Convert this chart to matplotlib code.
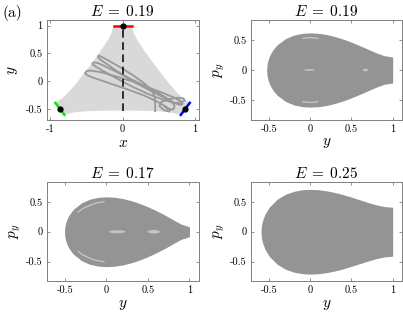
import numpy as np
import matplotlib
matplotlib.use('Agg')
import matplotlib.pyplot as plt
from matplotlib.patches import Polygon, Ellipse

plt.rcParams['mathtext.fontset'] = 'cm'
plt.rcParams['font.family'] = 'cmr10'
plt.rcParams['axes.unicode_minus'] = False

# --- panel (a): allowed region for E = 0.19, closed outline (x, y)
region_x = [-0.125, 0.125, 0.153, 0.200, 0.241, 0.308, 0.364, 0.412, 0.459,
            0.506, 0.557, 0.616, 0.694, 0.747, 0.825, 0.928, 0.804, 0.673,
            0.547, 0.453, 0.308, 0.193, 0.093, 0.0, -0.093, -0.193, -0.308,
            -0.453, -0.547, -0.673, -0.804, -0.928, -0.825, -0.747, -0.694,
            -0.616, -0.557, -0.506, -0.459, -0.412, -0.364, -0.308, -0.241,
            -0.200, -0.153]
region_y = [1.0, 1.0, 0.865, 0.747, 0.663, 0.534, 0.433, 0.346, 0.265,
            0.184, 0.098, 0.0, -0.122, -0.200, -0.300, -0.392, -0.608, -0.564,
            -0.547, -0.540, -0.534, -0.531, -0.530, -0.530, -0.530, -0.531,
            -0.534, -0.540, -0.547, -0.564, -0.608, -0.392, -0.300, -0.200,
            -0.122, 0.0, 0.098, 0.184, 0.265, 0.346, 0.433, 0.534, 0.663,
            0.747, 0.865]

# saddle points and the three exit lines
saddle_x = [0.0, -0.866, 0.866]
saddle_y = [1.0, -0.5, -0.5]
exit_top_x, exit_top_y = [-0.125, 0.125], [1.0, 1.0]
exit_left_x, exit_left_y = [-0.928, -0.804], [-0.392, -0.608]
exit_right_x, exit_right_y = [0.928, 0.804], [-0.392, -0.608]

# trajectory
traj_x = [0.45, 0.45, 0.44, 0.40, 0.30, 0.15, -0.02, -0.18, -0.28, -0.33,
          -0.34, -0.30, -0.22, -0.10, 0.08, 0.28, 0.47, 0.62, 0.73, 0.80,
          0.83, 0.80, 0.70, 0.55, 0.35, 0.12, -0.10, -0.30, -0.44, -0.50,
          -0.52, -0.48, -0.38, -0.20, 0.05, 0.30, 0.48, 0.60, 0.66, 0.64,
          0.57, 0.51, 0.53, 0.62, 0.75, 0.84, 0.86, 0.80, 0.70, 0.55,
          0.35, 0.12, -0.10, -0.28, -0.38, -0.42, -0.40, -0.33, -0.20, 0.00,
          0.22, 0.42, 0.58, 0.68, 0.72, 0.70, 0.62, 0.58]
traj_y = [-0.54, -0.40, -0.27, -0.16, -0.04, 0.10, 0.24, 0.36, 0.43, 0.46,
          0.43, 0.38, 0.31, 0.20, 0.05, -0.10, -0.23, -0.33, -0.40, -0.43,
          -0.41, -0.36, -0.29, -0.21, -0.11, 0.00, 0.09, 0.16, 0.19, 0.18,
          0.14, 0.10, 0.05, -0.03, -0.14, -0.26, -0.37, -0.46, -0.52, -0.55,
          -0.52, -0.45, -0.38, -0.33, -0.30, -0.31, -0.35, -0.39, -0.39, -0.33,
          -0.23, -0.09, 0.06, 0.19, 0.27, 0.31, 0.34, 0.32, 0.24, 0.11,
          -0.03, -0.16, -0.28, -0.37, -0.45, -0.51, -0.50, -0.46]

# --- Poincare sections: upper boundary p_y(y) of the accessible region
sec19_y = [-0.53, -0.525, -0.52, -0.51, -0.5, -0.48, -0.45, -0.4, -0.3, -0.2,
           -0.1, 0, 0.1, 0.2, 0.3, 0.4, 0.5, 0.6, 0.7, 0.8, 0.9, 1.0]
sec19_p = [0, 0.089, 0.126, 0.177, 0.216, 0.276, 0.342, 0.421, 0.522, 0.579,
           0.608, 0.616, 0.609, 0.588, 0.555, 0.513, 0.462, 0.405, 0.345,
           0.285, 0.237, 0.216]
sec17_y = [-0.504, -0.502, -0.5, -0.49, -0.47, -0.45, -0.4, -0.3, -0.2, -0.1,
           0, 0.1, 0.2, 0.3, 0.4, 0.5, 0.6, 0.7, 0.8, 0.9, 1.0]
sec17_p = [0, 0.06, 0.082, 0.147, 0.223, 0.277, 0.371, 0.482, 0.543, 0.574,
           0.583, 0.575, 0.553, 0.518, 0.472, 0.416, 0.352, 0.281, 0.203,
           0.127, 0.082]
sec25_y = [-0.598, -0.595, -0.59, -0.58, -0.55, -0.5, -0.4, -0.3, -0.2, -0.1,
           0, 0.1, 0.2, 0.3, 0.4, 0.5, 0.6, 0.7, 0.8, 0.9, 1.0]
sec25_p = [0, 0.074, 0.123, 0.183, 0.294, 0.408, 0.545, 0.626, 0.674, 0.700,
           0.707, 0.701, 0.682, 0.654, 0.619, 0.577, 0.533, 0.489, 0.449,
           0.420, 0.408]

# islands (centre y, centre p_y, width, height)
isl19 = [(-0.01, 0.0, 0.13, 0.03), (0.67, 0.0, 0.06, 0.045)]
arc19_y = [-0.09, -0.04, 0.0, 0.04, 0.09]
arc19_p = [0.525, 0.535, 0.537, 0.535, 0.525]
isl17 = [(0.13, 0.0, 0.20, 0.05), (0.57, 0.0, 0.15, 0.06)]
arc17_y = [-0.34, -0.28, -0.20, -0.12, -0.03]
arc17_p = [0.33, 0.39, 0.44, 0.48, 0.50]

energies = ['0.19', '0.19', '0.17', '0.25']
sec_ticks = [-0.5, 0, 0.5, 1]
sec_ticklabels = ['-0.5', '0', '0.5', '1']
p_ticks = [-0.5, 0, 0.5]
p_ticklabels = ['-0.5', '0', '0.5']

region_col = '#d9d9d9'
traj_col = '#999999'
sea_col = '#949494'
isl_col = '#c4c4c4'
frame_col = '#808080'

fig = plt.figure(figsize=(4.03, 3.18), dpi=100)
ax_a = fig.add_axes([0.1156, 0.6226, 0.3772, 0.3145])
ax_b = fig.add_axes([0.6228, 0.6226, 0.3740, 0.3145])
ax_c = fig.add_axes([0.1156, 0.1148, 0.3772, 0.3129])
ax_d = fig.add_axes([0.6228, 0.1148, 0.3740, 0.3129])


def style(ax):
    for s in ax.spines.values():
        s.set_color(frame_col)
        s.set_linewidth(0.7)
    ax.tick_params(direction='in', length=2.5, width=0.6, top=True,
                   right=True, color=frame_col, labelcolor='black',
                   labelsize=7.5, pad=3)


# (a)
ax_a.add_patch(Polygon(np.column_stack([region_x, region_y]), closed=True,
                       facecolor=region_col, edgecolor='none'))
ax_a.plot(traj_x, traj_y, color=traj_col, lw=1.3, solid_joinstyle='round')
ax_a.plot([0, 0], [-0.53, 1.0], color='black', lw=1.1, ls=(0, (5, 3)))
ax_a.plot(exit_top_x, exit_top_y, color='red', lw=1.8)
ax_a.plot(exit_left_x, exit_left_y, color='#00ee00', lw=1.8)
ax_a.plot(exit_right_x, exit_right_y, color='blue', lw=1.8)
ax_a.plot(saddle_x, saddle_y, 'o', color='black', ms=3.5)
ax_a.set_xlim(-1.05, 1.05)
ax_a.set_ylim(-0.70, 1.10)
ax_a.set_xticks([-1, 0, 1], ['-1', '0', '1'])
ax_a.set_yticks([-0.5, 0, 0.5, 1], ['-0.5', '0', '0.5', '1'])
ax_a.set_xlabel('$x$', fontsize=11, labelpad=2)
ax_a.set_ylabel('$y$', fontsize=11, labelpad=4)
style(ax_a)

# sections
secs = [(ax_b, sec19_y, sec19_p), (ax_c, sec17_y, sec17_p),
        (ax_d, sec25_y, sec25_p)]
for ax, ys, ps in secs:
    ax.fill_between(ys, -np.array(ps), ps, color=sea_col, lw=0)
    ax.set_xlim(-0.72, 1.11)
    ax.set_ylim(-0.83, 0.83)
    ax.set_xticks(sec_ticks, sec_ticklabels)
    ax.set_yticks(p_ticks, p_ticklabels)
    ax.set_xlabel('$y$', fontsize=11, labelpad=2)
    ax.set_ylabel('$p_y$', fontsize=11, labelpad=2)
    style(ax)

for cy, cp, w, h in isl19:
    ax_b.add_patch(Ellipse((cy, cp), w, h, facecolor=isl_col, edgecolor='none'))
ax_b.plot(arc19_y, arc19_p, color=isl_col, lw=1.0)
ax_b.plot(arc19_y, -np.array(arc19_p), color=isl_col, lw=1.0)

for cy, cp, w, h in isl17:
    ax_c.add_patch(Ellipse((cy, cp), w, h, facecolor=isl_col, edgecolor='none'))
ax_c.plot(arc17_y, arc17_p, color=isl_col, lw=1.0)
ax_c.plot(arc17_y, -np.array(arc17_p), color=isl_col, lw=1.0)

for ax, e in zip([ax_a, ax_b, ax_c, ax_d], energies):
    ax.set_title(r'$E\;=\;' + e + '$', fontsize=11, pad=3)

fig.text(0.005, 0.958, '(a)', fontsize=11, va='center', ha='left')

fig.savefig('out.png', dpi=100)
